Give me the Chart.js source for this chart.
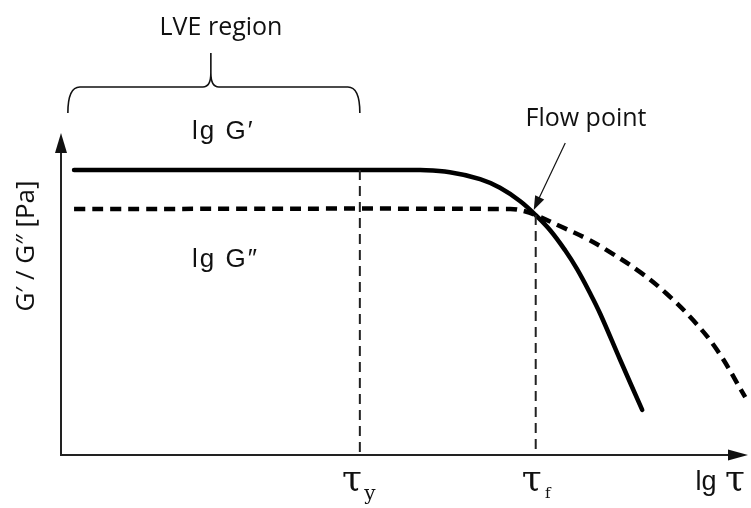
<!DOCTYPE html>
<html>
<head>
<meta charset="utf-8">
<script src="https://cdn.jsdelivr.net/npm/chart.js@4.4.1/dist/chart.umd.min.js"></script>
<style>
  body { margin: 0; background: #fff; }
  #wrap { width: 751px; height: 508px; }
</style>
</head>
<body>
<div id="wrap"><canvas id="flowChart"></canvas></div>
<script>
// lg tau (x) against lg G (y), arbitrary units 0..10
const storageX = [0.19, 4.93, 5.23, 5.66, 6.10, 6.39, 6.68, 6.91, 7.12, 7.34, 7.51, 7.70, 7.85, 8.14, 8.46];
const storageY = [8.85, 8.85, 8.85, 8.78, 8.57, 8.30, 7.89, 7.45, 6.98, 6.35, 5.78, 5.03, 4.38, 2.95, 1.40];

const lossX = [0.19, 6.54, 6.75, 6.91, 7.26, 7.66, 7.99, 8.43, 8.82, 9.20, 9.55, 9.96];
const lossY = [7.64, 7.64, 7.57, 7.45, 7.11, 6.71, 6.30, 5.68, 5.00, 4.19, 3.26, 1.80];

const tauYield = 4.35;
const tauFlow = 6.91;
const plateauG1 = 8.85;
const flowG = 7.45;

const toPts = (xs, ys) => xs.map((x, i) => ({x: x, y: ys[i]}));

const arrowHead = (ctx, x1, y1, x2, y2, len, w) => {
  const a = Math.atan2(y2 - y1, x2 - x1);
  ctx.beginPath();
  ctx.moveTo(x2, y2);
  ctx.lineTo(x2 - len * Math.cos(a) + w / 2 * Math.sin(a), y2 - len * Math.sin(a) - w / 2 * Math.cos(a));
  ctx.lineTo(x2 - len * Math.cos(a) - w / 2 * Math.sin(a), y2 - len * Math.sin(a) + w / 2 * Math.cos(a));
  ctx.closePath();
  ctx.fill();
};

// axes with arrows, brace, labels
const decorations = {
  id: 'decorations',
  beforeDatasetsDraw(chart) {
    const {ctx, chartArea: ca} = chart;
    ctx.save();
    ctx.strokeStyle = '#222';
    ctx.fillStyle = '#111';
    ctx.lineWidth = 2;
    ctx.beginPath();
    ctx.moveTo(ca.left, ca.top + 14);
    ctx.lineTo(ca.left, ca.bottom);
    ctx.lineTo(ca.right - 16, ca.bottom);
    ctx.stroke();
    arrowHead(ctx, ca.left, ca.bottom, ca.left, ca.top, 20, 12);
    arrowHead(ctx, ca.left, ca.bottom, ca.right, ca.bottom, 20, 11);
    ctx.restore();
  },
  afterDatasetsDraw(chart) {
    const {ctx, chartArea: ca, scales: {x, y}} = chart;
    ctx.save();
    ctx.fillStyle = '#111';
    ctx.strokeStyle = '#111';

    // curly brace over the plateau
    const bl = x.getPixelForValue(0.1), br = x.getPixelForValue(tauYield);
    const bm = (bl + br) / 2 - 3;
    const yEnd = ca.top - 20, yBar = ca.top - 46, yTip = ca.top - 80;
    ctx.lineWidth = 1.6;
    ctx.beginPath();
    ctx.moveTo(bl, yEnd);
    ctx.quadraticCurveTo(bl, yBar, bl + 12, yBar);
    ctx.lineTo(bm - 8, yBar);
    ctx.quadraticCurveTo(bm, yBar, bm, yBar - 14);
    ctx.lineTo(bm, yTip);
    ctx.moveTo(bm, yBar - 14);
    ctx.quadraticCurveTo(bm, yBar, bm + 8, yBar);
    ctx.lineTo(br - 12, yBar);
    ctx.quadraticCurveTo(br, yBar, br, yEnd);
    ctx.stroke();

    ctx.textAlign = 'center';
    ctx.textBaseline = 'alphabetic';
    ctx.font = '25px "Open Sans"';
    ctx.fillText('LVE region', 221, 35);
    ctx.fillText('Flow point', 586, 126);

    // flow point pointer
    const fx = x.getPixelForValue(tauFlow) - 2, fy = y.getPixelForValue(flowG) - 5;
    const tx = x.getPixelForValue(7.34), ty = y.getPixelForValue(9.69);
    ctx.lineWidth = 1.2;
    ctx.beginPath();
    ctx.moveTo(tx, ty);
    ctx.lineTo(fx + 4, fy - 9);
    ctx.stroke();
    arrowHead(ctx, tx, ty, fx, fy, 14, 10);

    // curve names
    ctx.font = '26px "Liberation Sans"';
    ctx.letterSpacing = '2px';
    ctx.textAlign = 'left';
    ctx.fillText('lg G\u2032', 192, 139);
    ctx.fillText('lg G\u2033', 192, 267);
    ctx.letterSpacing = '0px';

    // axis labels
    ctx.font = '36px "DejaVu Serif"';
    ctx.textAlign = 'center';
    const ty1 = x.getPixelForValue(tauYield);
    const tf1 = x.getPixelForValue(tauFlow);
    ctx.fillText('\u03c4', ty1 - 8, 490);
    ctx.fillText('\u03c4', tf1 - 4, 490);
    ctx.fillText('\u03c4', 735, 490);
    ctx.font = '20px "DejaVu Serif"';
    ctx.fillText('y', ty1 + 10, 500);
    ctx.font = '15px "DejaVu Serif"';
    ctx.fillText('f', tf1 + 12, 498);
    ctx.font = '27px "Liberation Sans"';
    ctx.fillText('lg', 706, 490);

    ctx.translate(26, 246);
    ctx.rotate(-Math.PI / 2);
    ctx.font = '26px "Open Sans"';
    ctx.fillText('G\u2032 / G\u2033 [Pa]', 0, 8);
    ctx.restore();
  }
};

new Chart(document.getElementById('flowChart'), {
  type: 'scatter',
  data: {
    datasets: [
      {
        label: 'tau y',
        data: [{x: tauYield, y: plateauG1}, {x: tauYield, y: 0}],
        showLine: true, borderColor: '#222', borderWidth: 2, borderDash: [10, 6],
        pointRadius: 0
      },
      {
        label: 'tau f',
        data: [{x: tauFlow, y: flowG}, {x: tauFlow, y: 0}],
        showLine: true, borderColor: '#222', borderWidth: 2, borderDash: [10, 6],
        pointRadius: 0
      },
      {
        label: "G''",
        data: toPts(lossX, lossY),
        showLine: true, borderColor: '#000', borderWidth: 4.5, borderDash: [11, 7],
        tension: 0.4, pointRadius: 0
      },
      {
        label: "G'",
        data: toPts(storageX, storageY),
        showLine: true, borderColor: '#000', borderWidth: 4.5, borderCapStyle: 'round',
        tension: 0.4, pointRadius: 0
      }
    ]
  },
  options: {
    responsive: true,
    maintainAspectRatio: false,
    animation: false,
    clip: false,
    layout: {padding: {left: 61, right: 3, top: 133, bottom: 53}},
    plugins: {legend: {display: false}, tooltip: {enabled: false}},
    scales: {
      x: {type: 'linear', min: 0, max: 10, display: false},
      y: {type: 'linear', min: 0, max: 10, display: false}
    }
  },
  plugins: [decorations]
});
</script>
</body>
</html>
